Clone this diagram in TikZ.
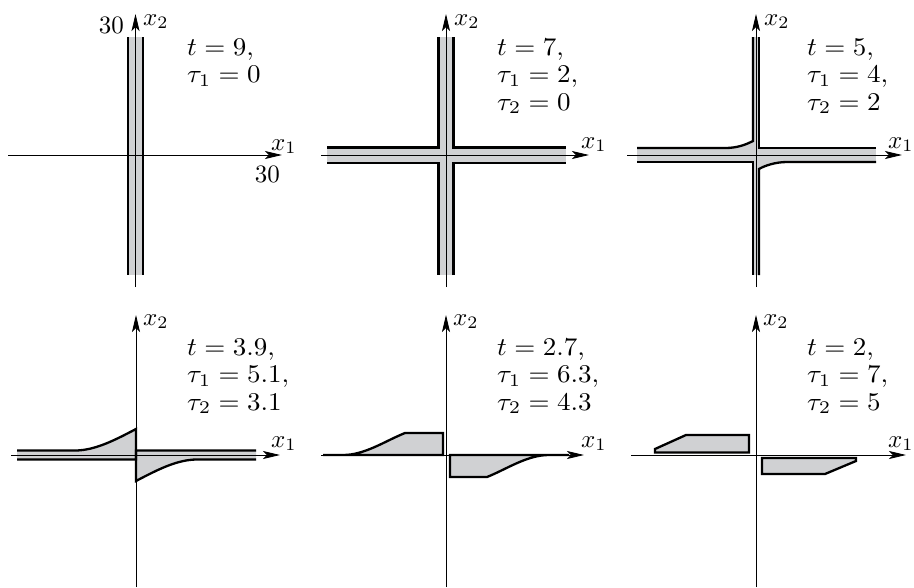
\documentclass[tikz,border=0pt]{standalone}
\usetikzlibrary{arrows.meta}
\definecolor{stripgray}{RGB}{208,209,211}
\newcommand\bigtext[1]{\scalebox{2.5}{#1}}
\newcommand\valtext[1]{\scalebox{2.7}[2.55]{#1}}
\tikzset{
  axis/.style={line width=0.8pt, -{Stealth[length=17pt,width=8pt,inset=4pt]}},
  edge/.style={line width=2.3pt, line join=miter},
  region/.style={fill=stripgray},
  lbl/.style={inner sep=0pt, anchor=base west},
  lble/.style={inner sep=0pt, anchor=base east}
}
\begin{document}
\begin{tikzpicture}[x=1pt,y=-1pt]
\useasboundingbox (0,0) rectangle (914,587);

% ---------- Panel 1 ----------
\fill[region] (128,37) rectangle (143,275);
\draw[edge] (128,37) -- (128,275);
\draw[edge] (143,37) -- (143,275);
\coordinate (p1l) at (8,155); \coordinate (p1r) at (282,155);
\coordinate (p1b) at (135.5,287); \coordinate (p1t) at (135.5,14);
\draw[axis] (p1l) -- (p1r);
\draw[axis] (p1b) -- (p1t);
\node[lbl] (p1x2) at (143,25) {\bigtext{$x_2$}};
\node[lbl] (p1x1) at (271,150) {\bigtext{$x_1$}};
\node[lble] (p1ty) at (124,33) {\bigtext{$30$}};
\node[lble] (p1tx) at (280,182) {\bigtext{$30$}};
\node[lbl] (p1a) at (187,55) {\valtext{$t=9,$}};
\node[lbl] (p1b2) at (187,82.5) {\valtext{$\tau_1=0$}};

% ---------- Panel 2 ----------
\fill[region] (327,147.5) rectangle (566,163);
\fill[region] (438.5,37) rectangle (453.5,275);
\draw[edge] (327,147.5) -- (438.5,147.5) -- (438.5,37);
\draw[edge] (453.5,37) -- (453.5,147.5) -- (566,147.5);
\draw[edge] (327,163) -- (438.5,163) -- (438.5,275);
\draw[edge] (453.5,275) -- (453.5,163) -- (566,163);
\coordinate (p2l) at (321,155); \coordinate (p2r) at (589,155);
\coordinate (p2b) at (446,287); \coordinate (p2t) at (446,14);
\draw[axis] (p2l) -- (p2r);
\draw[axis] (p2b) -- (p2t);
\node[lbl] (p2x2) at (454,25) {\bigtext{$x_2$}};
\node[lbl] (p2x1) at (581,148) {\bigtext{$x_1$}};
\node[lbl] (p2a) at (497,55) {\valtext{$t=7,$}};
\node[lbl] (p2b2) at (497,82.5) {\valtext{$\tau_1=2,$}};
\node[lbl] (p2c) at (497,110) {\valtext{$\tau_2=0$}};

% ---------- Panel 3 ----------
\fill[region] (637,148) rectangle (876,162);
\fill[region] (753,37) rectangle (759,275);
\fill[region] (725,148) .. controls (737,148) and (745,145) .. (753,141) -- (753,148) -- cycle;
\fill[region] (759,169) .. controls (764,166) and (775,162) .. (787,162) -- (759,162) -- cycle;
\draw[edge] (637,148) -- (725,148) .. controls (737,148) and (745,145) .. (753,141) -- (753,37);
\draw[edge] (759,37) -- (759,148) -- (876,148);
\draw[edge] (637,162) -- (753,162) -- (753,275);
\draw[edge] (759,275) -- (759,169) .. controls (764,166) and (775,162) .. (787,162) -- (876,162);
\coordinate (p3l) at (627,155); \coordinate (p3r) at (902,155);
\coordinate (p3b) at (756,287); \coordinate (p3t) at (756,14);
\draw[axis] (p3l) -- (p3r);
\draw[axis] (p3b) -- (p3t);
\node[lbl] (p3x2) at (764,25) {\bigtext{$x_2$}};
\node[lbl] (p3x1) at (888,148) {\bigtext{$x_1$}};
\node[lbl] (p3a) at (807,55) {\valtext{$t=5,$}};
\node[lbl] (p3b2) at (807,82.5) {\valtext{$\tau_1=4,$}};
\node[lbl] (p3c) at (807,110) {\valtext{$\tau_2=2$}};

% ---------- Panel 4 ----------
\fill[region] (17,450.5) -- (75,450.5) .. controls (95,450.5) and (115,440) .. (136,429) -- (136,459.5) -- (17,459.5) -- cycle;
\fill[region] (256,459.5) -- (197,459.5) .. controls (177,459.5) and (157,470) .. (136,481) -- (136,450.5) -- (256,450.5) -- cycle;
\draw[edge] (17,450.5) -- (75,450.5) .. controls (95,450.5) and (115,440) .. (136,429) -- (136,459.5) -- (17,459.5);
\draw[edge] (256,459.5) -- (197,459.5) .. controls (177,459.5) and (157,470) .. (136,481) -- (136,450.5) -- (256,450.5);
\coordinate (p4l) at (11,455); \coordinate (p4r) at (280,455);
\coordinate (p4b) at (136,587); \coordinate (p4t) at (136,315);
\draw[axis] (p4l) -- (p4r);
\draw[axis] (p4b) -- (p4t);
\node[lbl] (p4x2) at (143,325) {\bigtext{$x_2$}};
\node[lbl] (p4x1) at (271,447) {\bigtext{$x_1$}};
\node[lbl] (p4a) at (187,355) {\valtext{$t=3.9,$}};
\node[lbl] (p4b2) at (187,382.5) {\valtext{$\tau_1=5.1,$}};
\node[lbl] (p4c) at (187,410) {\valtext{$\tau_2=3.1$}};

% ---------- Panel 5 ----------
\filldraw[region, edge] (323,455) -- (343,455) .. controls (365,455) and (385,441) .. (405,433) -- (443,433) -- (443,455) -- cycle;
\filldraw[region, edge] (569,455) -- (549,455) .. controls (527,455) and (507,469) .. (487,477) -- (450,477) -- (450,455) -- cycle;
\coordinate (p5l) at (321,455); \coordinate (p5r) at (584,455);
\coordinate (p5b) at (446,587); \coordinate (p5t) at (446,315);
\draw[axis] (p5l) -- (p5r);
\draw[axis] (p5b) -- (p5t);
\node[lbl] (p5x2) at (453,325) {\bigtext{$x_2$}};
\node[lbl] (p5x1) at (581,447) {\bigtext{$x_1$}};
\node[lbl] (p5a) at (497,355) {\valtext{$t=2.7,$}};
\node[lbl] (p5b2) at (497,382.5) {\valtext{$\tau_1=6.3,$}};
\node[lbl] (p5c) at (497,410) {\valtext{$\tau_2=4.3$}};

% ---------- Panel 6 ----------
\filldraw[region, edge] (655,452.5) -- (655,449) -- (686,435) -- (749,435) -- (749,452.5) -- cycle;
\filldraw[region, edge] (762,458) -- (856,458) -- (856,461) -- (825,474) -- (762,474) -- cycle;
\coordinate (p6l) at (631,455); \coordinate (p6r) at (906,455);
\coordinate (p6b) at (756,587); \coordinate (p6t) at (756,315);
\draw[axis] (p6l) -- (p6r);
\draw[axis] (p6b) -- (p6t);
\node[lbl] (p6x2) at (763,325) {\bigtext{$x_2$}};
\node[lbl] (p6x1) at (888,447) {\bigtext{$x_1$}};
\node[lbl] (p6a) at (807,355) {\valtext{$t=2,$}};
\node[lbl] (p6b2) at (807,382.5) {\valtext{$\tau_1=7,$}};
\node[lbl] (p6c) at (807,410) {\valtext{$\tau_2=5$}};
\end{tikzpicture}
\end{document}
